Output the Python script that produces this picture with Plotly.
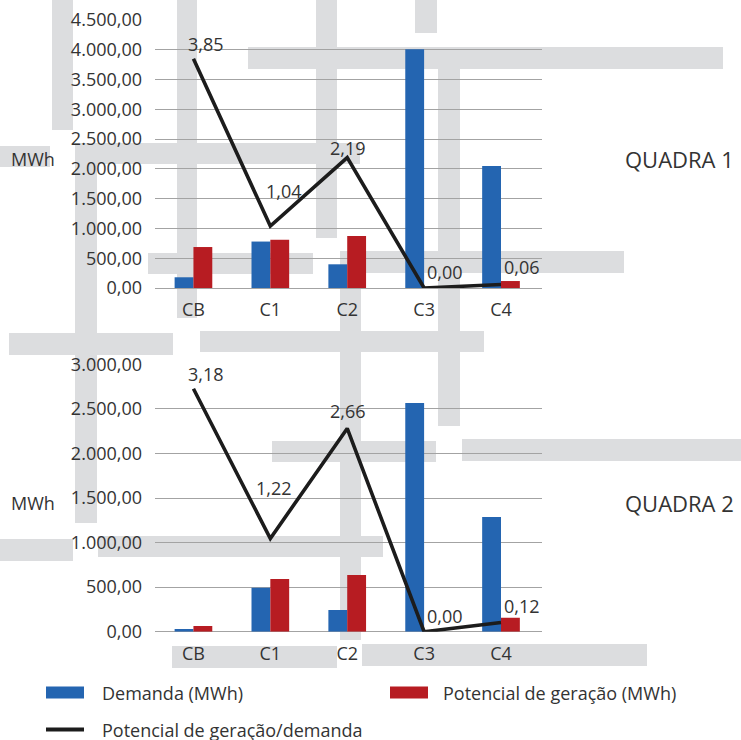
import plotly.graph_objects as go

# ---- data -------------------------------------------------------------
categories = ["CB", "C1", "C2", "C3", "C4"]

demanda_q1 = [180, 780, 398, 4010, 2047]
potencial_q1 = [688, 810, 872, 0, 117]
razao_q1 = [3.85, 1.04, 2.19, 0.00, 0.06]

demanda_q2 = [30, 494, 243, 2566, 1287]
potencial_q2 = [64, 591, 636, 0, 157]
razao_q2 = [3.18, 1.22, 2.66, 0.00, 0.12]

serie_demanda = "Demanda (MWh)"
serie_potencial = "Potencial de geração (MWh)"
serie_razao = "Potencial de geração/demanda"
paineis = ["QUADRA 1", "QUADRA 2"]
unidade = "MWh"

# ---- style ------------------------------------------------------------
W, H = 741, 740
BLUE = "#2465b1"
RED = "#b71c22"
LINE = "#1c1c1c"
GRID = "#a3a3a3"
TEXT = "#333333"
DECOR = "#dcdddf"
FONT = "Open Sans"


def px(x):
    return x / W


def py(y):
    return 1 - y / H


fig = go.Figure()

panels = [
    dict(dem=demanda_q1, pot=potencial_q1, rat=razao_q1, ya="y", yr="y3",
         rng=[0, 4500], rng2=[0, 4.5], dom=[py(288), py(20)], title=paineis[0],
         label_y=159,
         shifts=[(13, -15), (14, -35), (1, -10), (21, -16), (21, -17)]),
    dict(dem=demanda_q2, pot=potencial_q2, rat=razao_q2, ya="y2", yr="y4",
         rng=[0, 3000], rng2=[0, 3.5], dom=[py(631.7), py(364.3)], title=paineis[1],
         label_y=503,
         shifts=[(13, -15), (4, -50), (1, -17), (21, -16), (21, -17)]),
]

xaxes = ["x", "x2"]
annotations = []


def paper_text(x, y, text, size, xanchor="center"):
    return dict(x=px(x), y=py(y), xref="paper", yref="paper", text=text,
                showarrow=False, xanchor=xanchor, yanchor="middle",
                font=dict(size=size, color=TEXT, family=FONT))


for i, p in enumerate(panels):
    xa = xaxes[i]
    fig.add_trace(go.Bar(x=categories, y=p["dem"], name=serie_demanda,
                         marker=dict(color=BLUE, line=dict(width=0)),
                         xaxis=xa, yaxis=p["ya"], showlegend=False,
                         offsetgroup="d"))
    fig.add_trace(go.Bar(x=categories, y=p["pot"], name=serie_potencial,
                         marker=dict(color=RED, line=dict(width=0)),
                         xaxis=xa, yaxis=p["ya"], showlegend=False,
                         offsetgroup="p"))
    fig.add_trace(go.Scatter(x=categories, y=p["rat"], name=serie_razao,
                             mode="lines", line=dict(color=LINE, width=3.6),
                             xaxis=xa, yaxis=p["yr"], showlegend=False))
    for c, v, (dx, dy) in zip(categories, p["rat"], p["shifts"]):
        annotations.append(dict(
            x=c, y=v, xref=xa, yref=p["yr"], xanchor="center", yanchor="middle",
            text=f"{v:.2f}".replace(".", ","), showarrow=False,
            xshift=dx, yshift=-dy, font=dict(size=18, color=TEXT, family=FONT)))
    annotations.append(paper_text(32.5, p["label_y"], unidade, 18))
    annotations.append(paper_text(679, p["label_y"], p["title"], 22))

# ---- legend drawn below the panels -----------------------------------
legend_items = [
    (serie_demanda, BLUE, "bar", 46, 692.5, 100),
    (serie_potencial, RED, "bar", 390, 692.5, 441),
    (serie_razao, LINE, "line", 46, 729.5, 100),
]
shapes = []

# light decorative blocks behind the charts
decor_blocks = [
    (52, 0, 73, 130), (177, 0, 197, 318), (316, 0, 337, 238), (415, 0, 437, 33),
    (248, 47, 723, 69), (438, 47, 460, 426), (0, 146, 50, 167), (75, 143, 360, 164),
    (75, 143, 97, 523), (148, 253, 313, 274), (340, 251, 624, 273), (340, 251, 361, 640),
    (9, 333, 173, 355), (200, 331, 484, 352), (272, 441, 436, 462), (462, 439, 741, 461),
    (0, 539, 73, 561), (98, 536, 383, 557), (172, 646, 337, 668), (362, 644, 647, 666),
]
for x0, y0, x1, y1 in decor_blocks:
    shapes.append(dict(type="rect", xref="paper", yref="paper", layer="below",
                       x0=px(x0), x1=px(x1), y0=py(y0), y1=py(y1),
                       fillcolor=DECOR, line=dict(width=0)))

for name, color, kind, sx, sy, tx in legend_items:
    if kind == "bar":
        shapes.append(dict(type="rect", xref="paper", yref="paper",
                           x0=px(sx), x1=px(sx + 38), y0=py(sy - 6), y1=py(sy + 6),
                           fillcolor=color, line=dict(width=0)))
    else:
        shapes.append(dict(type="line", xref="paper", yref="paper",
                           x0=px(sx), x1=px(sx + 38), y0=py(sy), y1=py(sy),
                           line=dict(color=color, width=4)))
    annotations.append(paper_text(tx, sy, name, 18, xanchor="left"))

xdom = [px(155), px(542)]
common_x = dict(domain=xdom, showgrid=False, showline=False, ticks="",
                zeroline=False, ticklabelstandoff=9, automargin=False,
                tickfont=dict(size=18, color=TEXT, family=FONT))
common_y = dict(showgrid=True, gridcolor=GRID, gridwidth=1.3, zeroline=True,
                zerolinecolor=GRID, zerolinewidth=1.3, showline=False, ticks="",
                tickformat=",.2f", dtick=500, ticklabelstandoff=12, automargin=False,
                tickfont=dict(size=18, color=TEXT, family=FONT))

fig.update_layout(
    template="none",
    width=W, height=H, autosize=False,
    margin=dict(l=0, r=0, t=0, b=0, pad=0),
    paper_bgcolor="white", plot_bgcolor="rgba(0,0,0,0)",
    separators=",.",
    barmode="group", bargap=0.51, bargroupgap=0,
    font=dict(family=FONT, color=TEXT),
    xaxis=dict(anchor="y", **common_x),
    xaxis2=dict(anchor="y2", **common_x),
    yaxis=dict(domain=panels[0]["dom"], range=panels[0]["rng"], anchor="x", **common_y),
    yaxis2=dict(domain=panels[1]["dom"], range=panels[1]["rng"], anchor="x2", **common_y),
    yaxis3=dict(overlaying="y", range=panels[0]["rng2"], visible=False, anchor="x",
                automargin=False),
    yaxis4=dict(overlaying="y2", range=panels[1]["rng2"], visible=False, anchor="x2",
                automargin=False),
    shapes=shapes,
    annotations=annotations,
    showlegend=False,
)

fig.write_html("out.html")
